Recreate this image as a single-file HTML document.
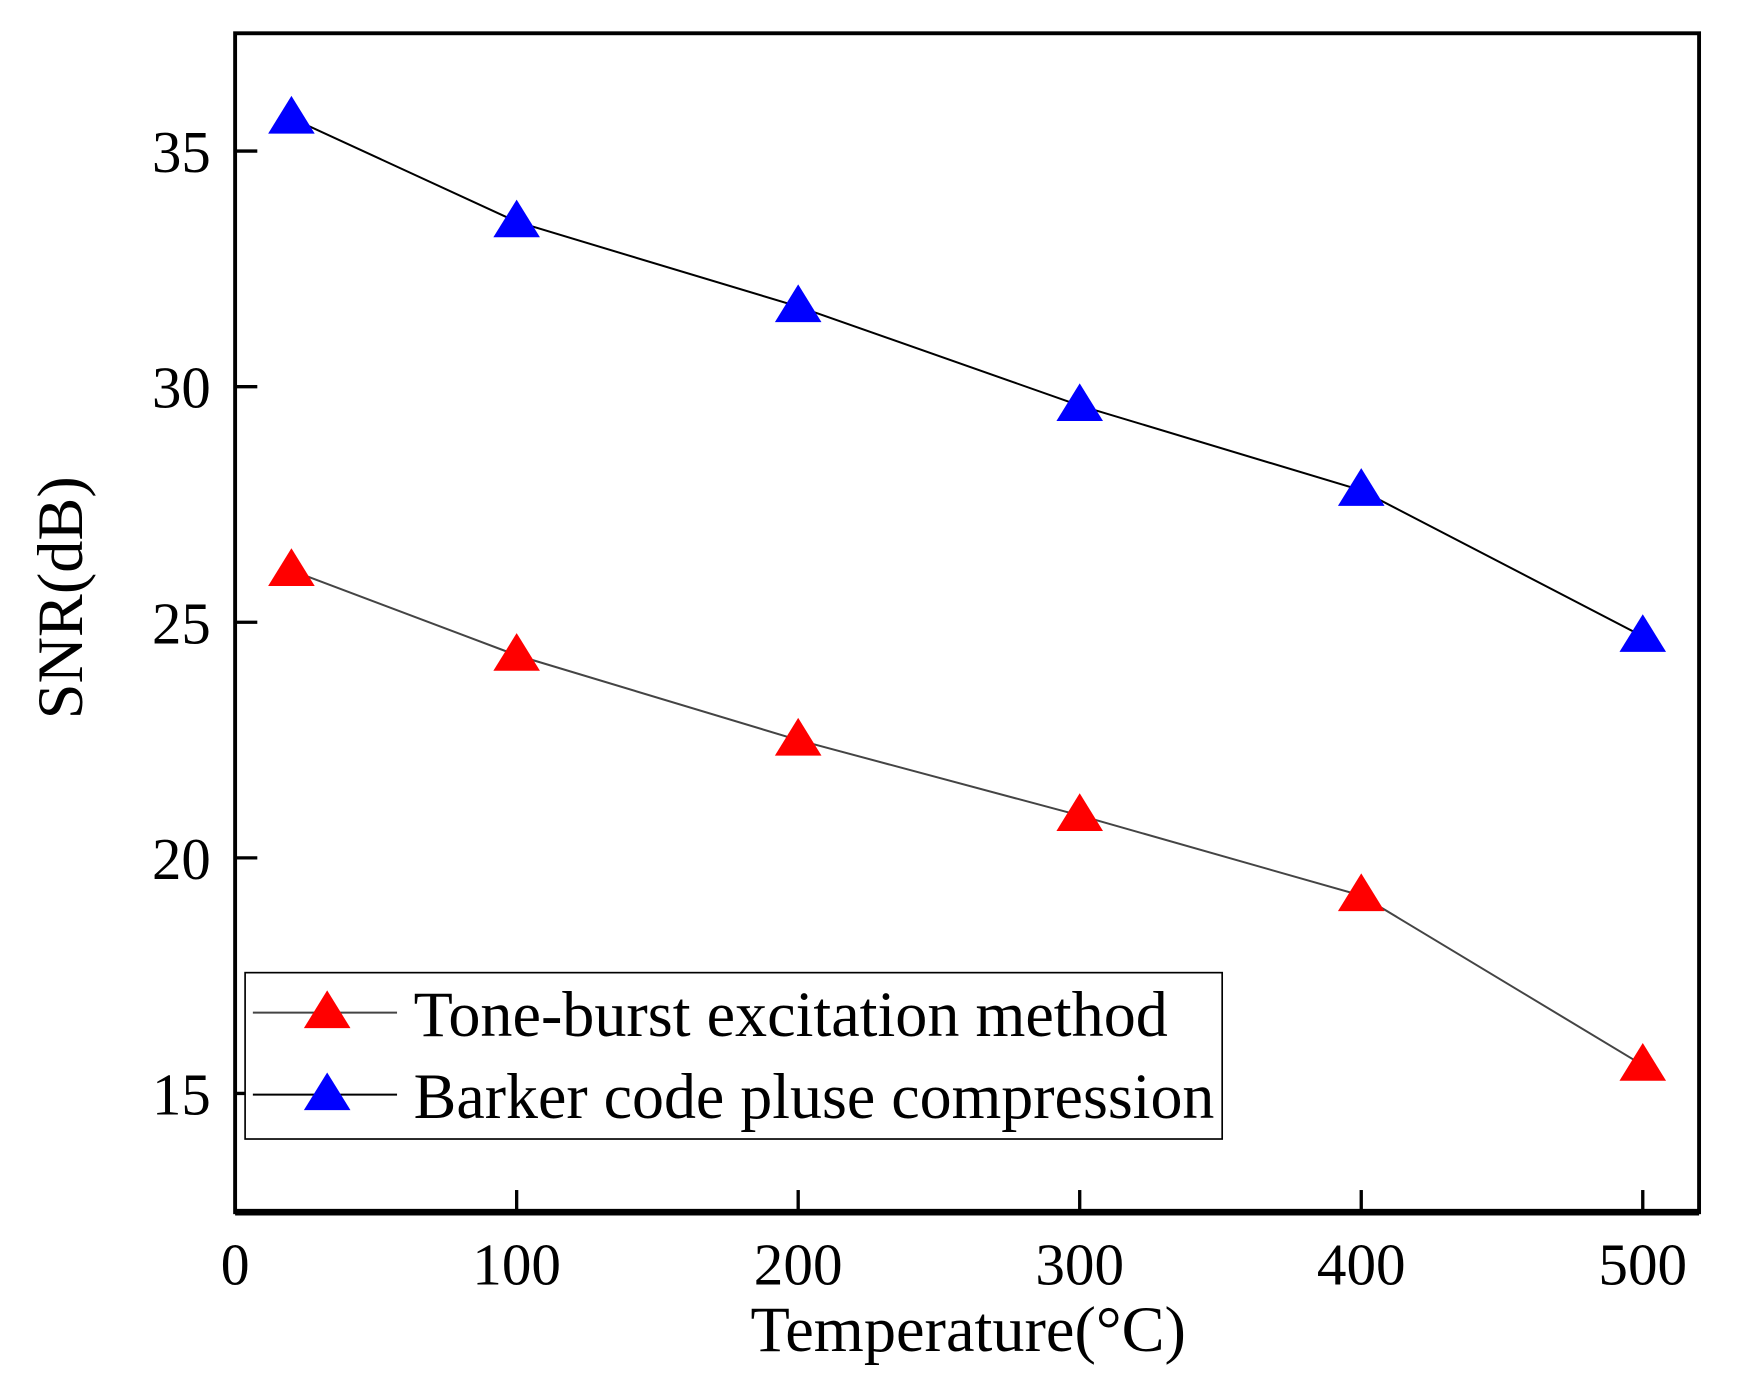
<!DOCTYPE html>
<html><head><meta charset="utf-8"><style>html,body{margin:0;padding:0;background:#fff}svg{display:block}</style></head>
<body>
<svg id="chart" width="1739" height="1386" viewBox="0 0 1568 1249.7" preserveAspectRatio="none" xmlns="http://www.w3.org/2000/svg" font-family="'Liberation Serif', serif">
<g id="plot"></g>
</svg>
<script>
const xTicks = [0, 100, 200, 300, 400, 500];
const yTicks = [15, 20, 25, 30, 35];
const temps = [20, 100, 200, 300, 400, 500];
const toneBurst = [26.1, 24.3, 22.5, 20.9, 19.2, 15.6];
const barker = [35.7, 33.5, 31.7, 29.6, 27.8, 24.7];
const seriesNames = ["Tone-burst excitation method", "Barker code pluse compression"];

const L = 212, R = 1532, T = 30, B = 1093;
const xMin = 0, xMax = 520, yMin = 12.48, yMax = 37.5;
const sx = v => L + (v - xMin) / (xMax - xMin) * (R - L);
const sy = v => B - (v - yMin) / (yMax - yMin) * (B - T);
const NS = "http://www.w3.org/2000/svg";
const g = document.getElementById("plot");
function mk(tag, attrs, parent) {
  const e = document.createElementNS(NS, tag);
  for (const k in attrs) e.setAttribute(k, attrs[k]);
  (parent || g).appendChild(e);
  return e;
}
function tri(cx, cy, color) {
  return mk("polygon", {points: `${cx},${cy-20} ${cx-21},${cy+14} ${cx+21},${cy+14}`, fill: color});
}

let fr = mk("rect", {x: L, y: T, width: R - L, height: B - T, fill: "none", stroke: "#000", "stroke-width": 3.5});


let xa = mk("line", {x1: L, y1: B, x2: R, y2: B, stroke: "#000", "stroke-width": 6});



xTicks.forEach(v => {
  const t = mk("line", {x1: sx(v), y1: B, x2: sx(v), y2: B - 20, stroke: "#000", "stroke-width": 3});
  
  
  const tx = mk("text", {x: sx(v), y: 1158, "font-size": 53, "text-anchor": "middle", textLength: v === 0 ? 26 : 80, lengthAdjust: "spacingAndGlyphs"});
  tx.textContent = v;
  
  
});
yTicks.forEach(v => {
  const t = mk("line", {x1: L, y1: sy(v), x2: L + 20, y2: sy(v), stroke: "#000", "stroke-width": 3});
  
  
  const tx = mk("text", {x: 190, y: sy(v) + 19, "font-size": 53, "text-anchor": "end"});
  tx.textContent = v;
  
  
});

let xt = mk("text", {x: 873, y: 1218, "font-size": 58, "text-anchor": "middle"});
xt.textContent = "Temperature(°C)";


let yt = mk("text", {x: 0, y: 0, "font-size": 58, "text-anchor": "middle", transform: "translate(74,539) rotate(-90)"});
yt.textContent = "SNR(dB)";



function drawSeries(vals, color, lineColor, name) {
  const pts = temps.map((t, i) => `${sx(t)},${sy(vals[i])}`).join(" ");
  const pl = mk("polyline", {points: pts, fill: "none", stroke: lineColor, "stroke-width": 1.8});
  
  
  temps.forEach((t, i) => {
    const m = tri(sx(t), sy(vals[i]), color);
    
    
  });
}
drawSeries(toneBurst, "#ff0000", "#444", "tone-burst");
drawSeries(barker, "#0000ff", "#000", "barker");

const lg = mk("g", {});


mk("rect", {x: 221, y: 877, width: 881, height: 150, fill: "#fff", stroke: "#000", "stroke-width": 1.5}, lg);
[["#ff0000", "#444", 913], ["#0000ff", "#000", 987]].forEach((c, i) => {
  const e = mk("g", {}, lg);
  
  
  mk("line", {x1: 228, y1: c[2], x2: 358, y2: c[2], stroke: c[1], "stroke-width": 1.8}, e);
  mk("polygon", {points: `295,${c[2]-20} 274,${c[2]+14} 316,${c[2]+14}`, fill: c[0]}, e);
  const tx = mk("text", {x: 373, y: c[2] + 21, "font-size": 58, textLength: i === 0 ? 680 : 722, lengthAdjust: "spacingAndGlyphs"}, e);
  tx.textContent = seriesNames[i];
});
</script>
</body></html>
